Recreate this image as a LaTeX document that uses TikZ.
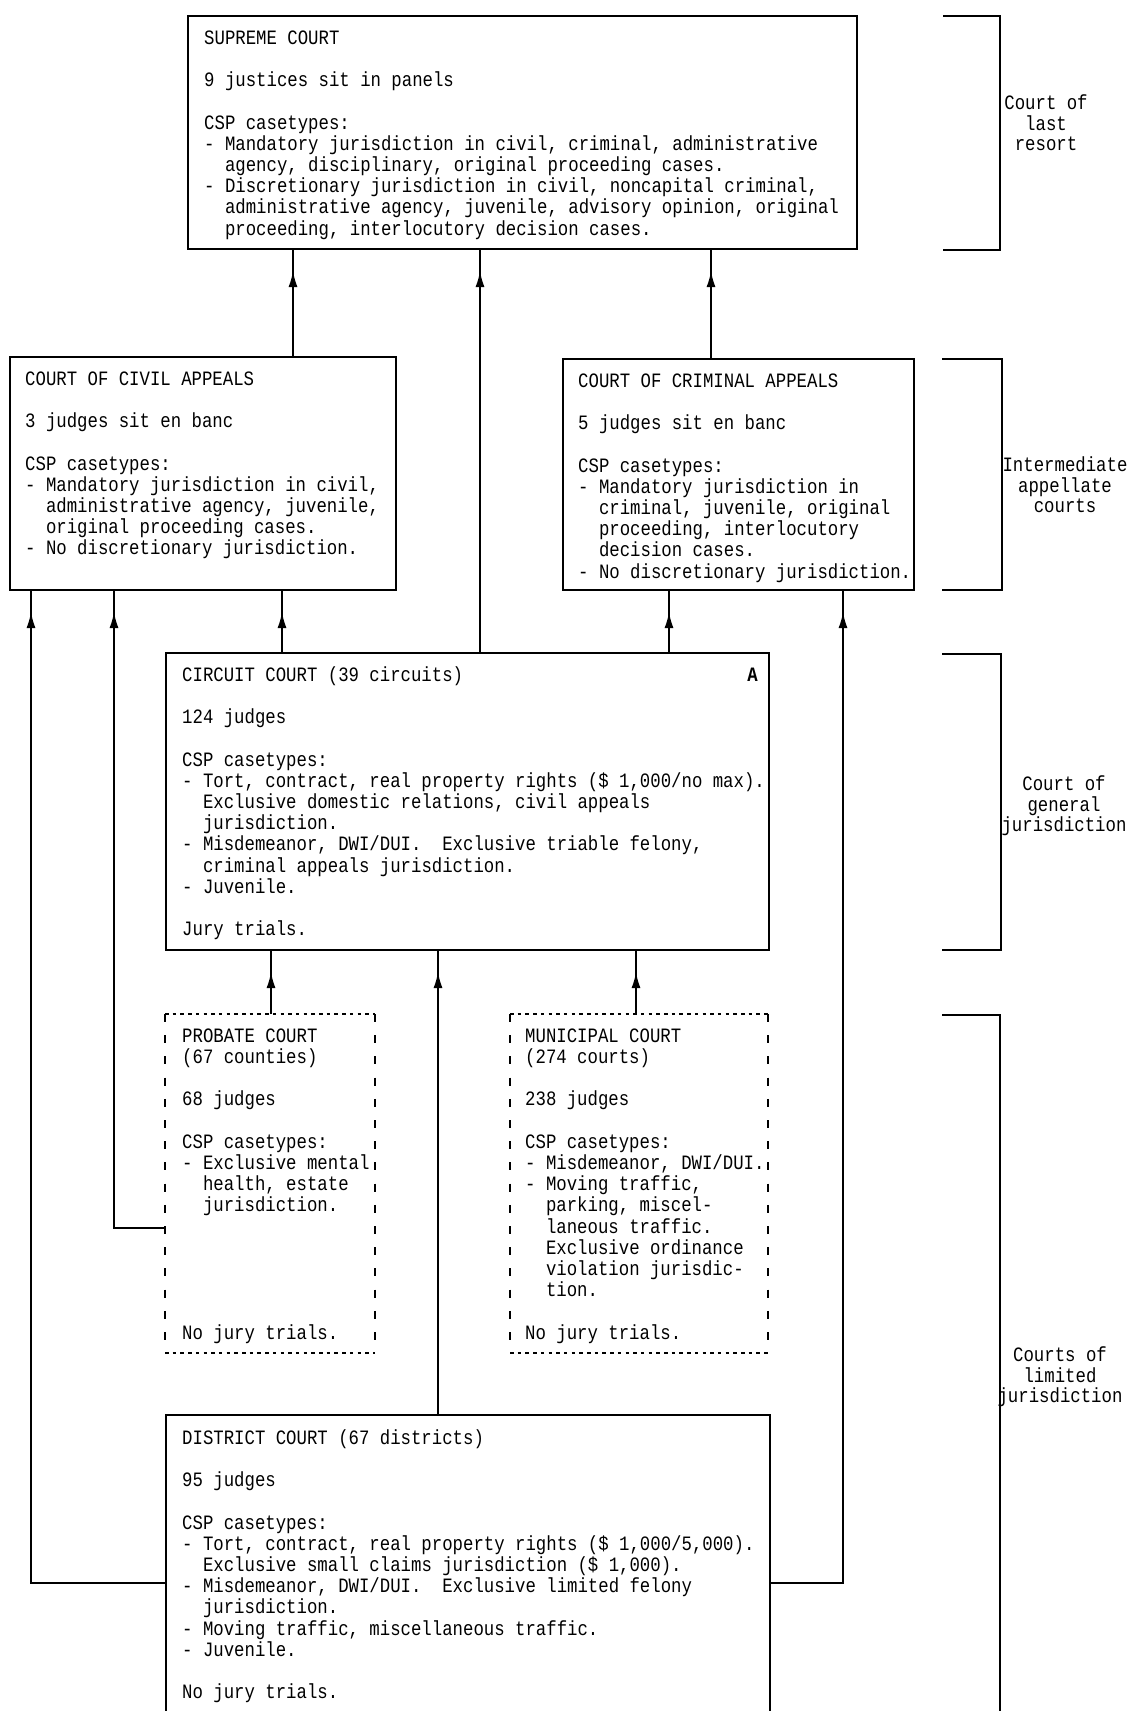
\documentclass[tikz,border=0pt]{standalone}
\usepackage{fontspec}
\usetikzlibrary{arrows.meta,decorations.markings,calc}
\newfontfamily\dotfont{Liberation Mono}[FakeStretch=0.85]
\newlength\LS \setlength\LS{21.2pt}
\newcommand\ii{\hphantom{xx}}
\newcommand\fs{\rule{0pt}{16pt}}
\begin{document}
\begin{tikzpicture}[x=1pt,y=-1pt,
  box/.style={draw, line width=2.2pt, anchor=north west, inner sep=0pt, outer sep=0pt},
  dbox/.style={anchor=north west, inner sep=0pt, outer sep=0pt},
  txt/.style={anchor=north west, inner sep=0pt, align=left, font=\dotfont\fontsize{20.4pt}{21.2pt}\selectfont},
  lbl/.style={align=center, inner sep=0pt, font=\dotfont\fontsize{20.4pt}{20.5pt}\selectfont},
  con/.style={line width=1.8pt, postaction={decorate}, decoration={markings, mark=at position -22pt with {\arrow{Latex[length=16pt,width=9pt]}}}},
  hd/.style={line width=2.2pt, dash pattern=on 3.5pt off 4.2pt},
  vd/.style={line width=1.7pt, dash pattern=on 8pt off 13.2pt},
  brk/.style={line width=2pt}]
\useasboundingbox (0,0) rectangle (1131,1711);
\clip (0,0) rectangle (1131,1711);
\fill[white] (0,0) rectangle (1131,1711);

% ---- boxes ----
\node[box, minimum width=669pt, minimum height=233pt] (supreme) at (188,16) {};
\node[txt] (supremetxt) at ([xshift=16pt,yshift=-12pt]supreme.north west)
 {\fs SUPREME COURT\\[\LS]
  9 justices sit in panels\\[\LS]
  CSP casetypes:\\
  - Mandatory jurisdiction in civil, criminal, administrative\\
  \ii agency, disciplinary, original proceeding cases.\\
  - Discretionary jurisdiction in civil, noncapital criminal,\\
  \ii administrative agency, juvenile, advisory opinion, original\\
  \ii proceeding, interlocutory decision cases.};

\node[box, minimum width=386pt, minimum height=233pt] (civil) at (10,357) {};
\node[txt] (civiltxt) at ([xshift=15pt,yshift=-12pt]civil.north west)
 {\fs COURT OF CIVIL APPEALS\\[\LS]
  3 judges sit en banc\\[\LS]
  CSP casetypes:\\
  - Mandatory jurisdiction in civil,\\
  \ii administrative agency, juvenile,\\
  \ii original proceeding cases.\\
  - No discretionary jurisdiction.};

\node[box, minimum width=351pt, minimum height=231pt] (criminal) at (563,359) {};
\node[txt] (criminaltxt) at ([xshift=15pt,yshift=-12pt]criminal.north west)
 {\fs COURT OF CRIMINAL APPEALS\\[\LS]
  5 judges sit en banc\\[\LS]
  CSP casetypes:\\
  - Mandatory jurisdiction in\\
  \ii criminal, juvenile, original\\
  \ii proceeding, interlocutory\\
  \ii decision cases.\\
  - No discretionary jurisdiction.};

\node[box, minimum width=603pt, minimum height=297pt] (circuit) at (166,653) {};
\node[txt] (circuittxt) at ([xshift=16pt,yshift=-12pt]circuit.north west)
 {\fs CIRCUIT COURT (39 circuits)\\[\LS]
  124 judges\\[\LS]
  CSP casetypes:\\
  - Tort, contract, real property rights (\$ 1,000/no max).\\
  \ii Exclusive domestic relations, civil appeals\\
  \ii jurisdiction.\\
  - Misdemeanor, DWI/DUI.~ Exclusive triable felony,\\
  \ii criminal appeals jurisdiction.\\
  - Juvenile.\\[\LS]
  Jury trials.};
\node[txt, anchor=north east] (circuitA) at ([xshift=-11pt,yshift=-12pt]circuit.north east) {\fs\bfseries A};

\node[dbox, minimum width=210pt, minimum height=339pt] (probate) at (165,1014) {};
\draw[hd] (probate.north west) -- (probate.north east);
\draw[hd] (probate.south west) -- (probate.south east);
\draw[vd] (probate.north west) -- (probate.south west);
\draw[vd] (probate.north east) -- (probate.south east);
\node[txt] (probatetxt) at ([xshift=17pt,yshift=-12pt]probate.north west)
 {\fs PROBATE COURT\\
  (67 counties)\\[\LS]
  68 judges\\[\LS]
  CSP casetypes:\\
  - Exclusive mental\\
  \ii health, estate\\
  \ii jurisdiction.\\[5\LS]
  No jury trials.};

\node[dbox, minimum width=258pt, minimum height=339pt] (municipal) at (510,1014) {};
\draw[hd] (municipal.north west) -- (municipal.north east);
\draw[hd] (municipal.south west) -- (municipal.south east);
\draw[vd] (municipal.north west) -- (municipal.south west);
\draw[vd] (municipal.north east) -- (municipal.south east);
\node[txt] (municipaltxt) at ([xshift=15pt,yshift=-12pt]municipal.north west)
 {\fs MUNICIPAL COURT\\
  (274 courts)\\[\LS]
  238 judges\\[\LS]
  CSP casetypes:\\
  - Misdemeanor, DWI/DUI.\\
  - Moving traffic,\\
  \ii parking, miscel-\\
  \ii laneous traffic.\\
  \ii Exclusive ordinance\\
  \ii violation jurisdic-\\
  \ii tion.\\[\LS]
  No jury trials.};

\node[box, minimum width=604pt, minimum height=310pt] (district) at (166,1415) {};
\node[txt] (districttxt) at ([xshift=16pt,yshift=-13pt]district.north west)
 {\fs DISTRICT COURT (67 districts)\\[\LS]
  95 judges\\[\LS]
  CSP casetypes:\\
  - Tort, contract, real property rights (\$ 1,000/5,000).\\
  \ii Exclusive small claims jurisdiction (\$ 1,000).\\
  - Misdemeanor, DWI/DUI.~ Exclusive limited felony\\
  \ii jurisdiction.\\
  - Moving traffic, miscellaneous traffic.\\
  - Juvenile.\\[\LS]
  No jury trials.};

% ---- brackets and labels ----
\draw[brk] (943,16) -- (1000,16) -- (1000,250) -- (943,250);
\node[lbl] (lab1) at (1046,123) {Court of\\last\\resort};
\draw[brk] (942,359) -- (1002,359) -- (1002,590) -- (942,590);
\node[lbl] (lab2) at (1065,485) {Intermediate\\appellate\\courts};
\draw[brk] (942,654) -- (1001,654) -- (1001,950) -- (942,950);
\node[lbl] (lab3) at (1064,806) {Court of\\general\\jurisdiction};
\draw[brk] (942,1015) -- (1000,1015) -- (1000,1720);
\node[lbl] (lab4) at (1060,1377) {Courts of\\limited\\jurisdiction};

% ---- connector coordinates ----
\coordinate (xA) at (293,0);
\coordinate (xB) at (480,0);
\coordinate (xC) at (711,0);
\coordinate (xD) at (282,0);
\coordinate (xE) at (669,0);
\coordinate (xF) at (31,0);
\coordinate (xG) at (114,0);
\coordinate (xH) at (843,0);
\coordinate (xI) at (271,0);
\coordinate (xJ) at (438,0);
\coordinate (xK) at (636,0);
\coordinate (yP) at (0,1228);
\coordinate (yD) at (0,1583);

% ---- connectors ----
\draw[con] (xA |- civil.north) -- (xA |- supreme.south);
\draw[con] (xB |- circuit.north) -- (xB |- supreme.south);
\draw[con] (xC |- criminal.north) -- (xC |- supreme.south);
\draw[con] (xD |- circuit.north) -- (xD |- civil.south);
\draw[con] (xE |- circuit.north) -- (xE |- criminal.south);
\draw[con] (district.west |- yD) -| (xF |- civil.south);
\draw[con] (probate.west |- yP) -| (xG |- civil.south);
\draw[con] (district.east |- yD) -| (xH |- criminal.south);
\draw[con] (xI |- probate.north) -- (xI |- circuit.south);
\draw[con] (xJ |- district.north) -- (xJ |- circuit.south);
\draw[con] (xK |- municipal.north) -- (xK |- circuit.south);
\end{tikzpicture}
\end{document}
